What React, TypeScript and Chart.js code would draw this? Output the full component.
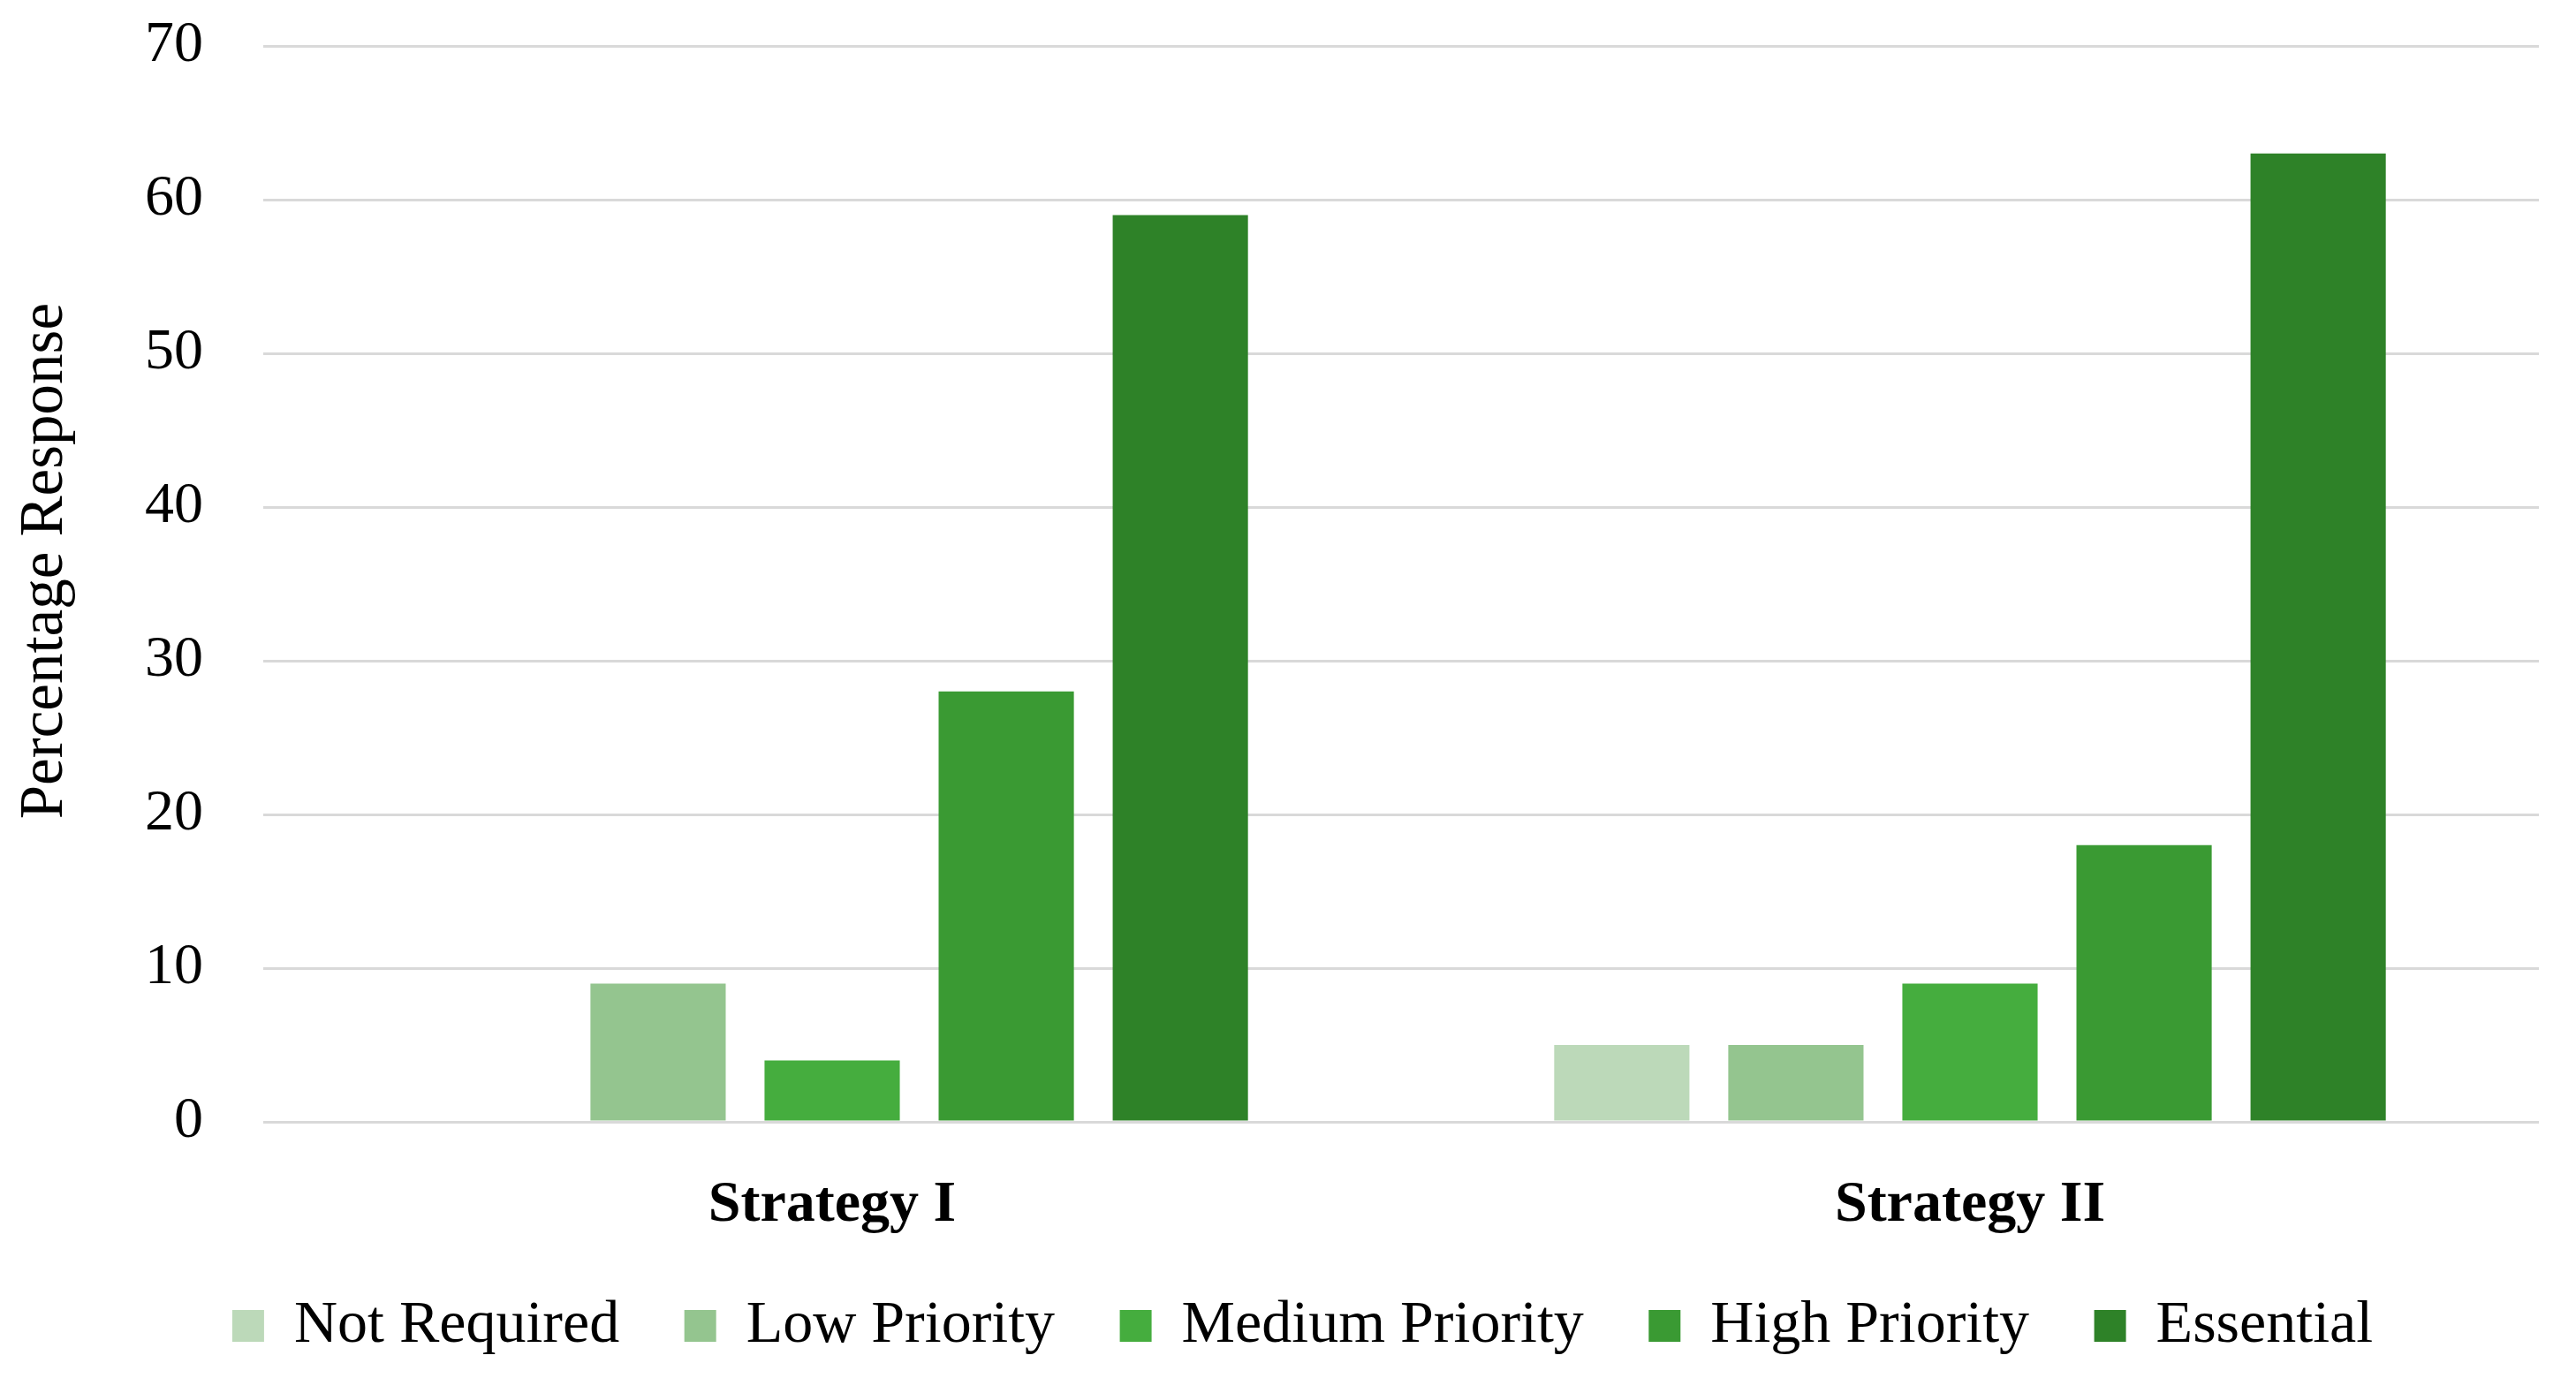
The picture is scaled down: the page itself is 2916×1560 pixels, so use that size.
import React, { useEffect, useRef } from "react";
import { Chart, registerables } from "chart.js";

Chart.register(...registerables);

const categories = ["Strategy I", "Strategy II"];
const seriesNames = ["Not Required", "Low Priority", "Medium Priority", "High Priority", "Essential"];
const notRequired = [0, 5];
const lowPriority = [9, 5];
const mediumPriority = [4, 9];
const highPriority = [28, 18];
const essential = [59, 63];
const seriesColors = ["#bcd9b9", "#94c58f", "#45ad3e", "#3a9a33", "#2e8228"];
const yMin = 0;
const yMax = 70;
const yStep = 10;
const yTitle = "   Percentage Response";

const FONT = "'Liberation Serif', 'Times New Roman', serif";
const W = 2916;
const H = 1560;

export default function App() {
  const ref = useRef<HTMLCanvasElement | null>(null);

  useEffect(() => {
    if (!ref.current) return;
    const values = [notRequired, lowPriority, mediumPriority, highPriority, essential];
    const chart = new Chart(ref.current, {
      type: "bar",
      data: {
        labels: categories,
        datasets: seriesNames.map((name, i) => ({
          label: name,
          data: values[i],
          backgroundColor: seriesColors[i],
          borderWidth: 0,
          categoryPercentage: 0.765,
          barPercentage: 0.777,
        })),
      },
      options: {
        responsive: false,
        animation: false,
        devicePixelRatio: 1,
        layout: { padding: { left: 75, right: 42, top: 52, bottom: 15 } },
        plugins: {
          legend: {
            position: "bottom",
            align: "center",
            labels: {
              font: { family: FONT, size: 68 },
              color: "#000",
              boxWidth: 36,
              boxHeight: 36,
              padding: 73.5,
            },
          },
          tooltip: { enabled: false },
        },
        scales: {
          x: {
            grid: { display: false, drawTicks: false },
            border: { display: false },
            ticks: {
              font: { family: FONT, size: 66, weight: "bold" },
              color: "#000",
              mirror: true,
              padding: -134.6,
            },
            afterFit: (s: any) => {
              s.height = 123.5;
            },
          },
          y: {
            min: yMin,
            max: yMax,
            grid: { color: "#d9d9d9", lineWidth: 3, drawTicks: false },
            border: { display: false },
            ticks: {
              stepSize: yStep,
              font: { family: FONT, size: 66 },
              color: "#000",
              padding: 68,
            },
            title: {
              display: true,
              text: yTitle,
              font: { family: FONT, size: 69 },
              color: "#000",
              padding: { top: -64.4, bottom: 0 },
            },
            afterFit: (s: any) => {
              s.width = 223;
              s.paddingTop = 0;
              s.paddingBottom = 0;
            },
          },
        },
      },
    });
    return () => chart.destroy();
  }, []);

  return (
    <div style={{ position: "fixed", left: 0, top: 0, width: W, height: H, background: "#fff" }}>
      <canvas ref={ref} width={W} height={H} style={{ width: W, height: H, display: "block" }} />
    </div>
  );
}
